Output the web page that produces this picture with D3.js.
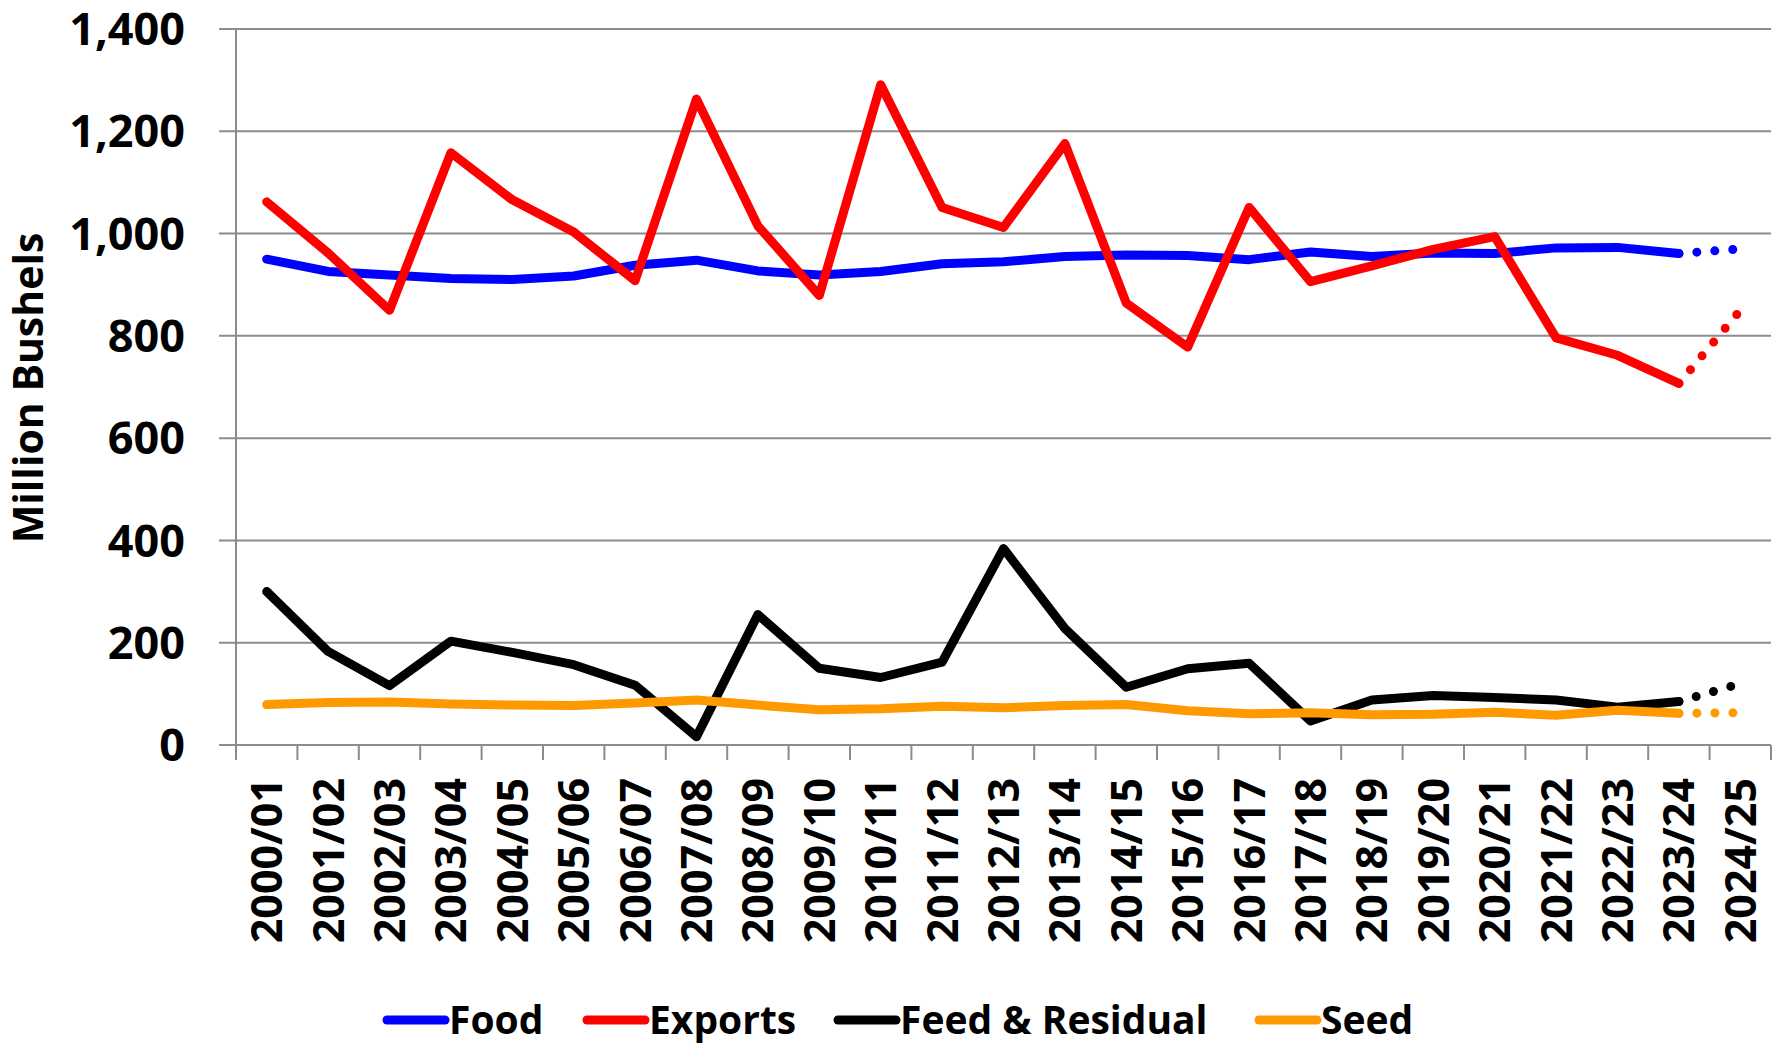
<!DOCTYPE html>
<html lang="en">
<head>
    <meta charset="UTF-8">
    <title>Wheat Use</title>
    <script src="https://d3js.org/d3.v7.min.js"></script>
    <style>
        body {
            margin: 0;
            background: #fff;
            font-family: "Open Sans", Arial, sans-serif;
        }
        svg text {
            font-weight: bold;
            fill: #000;
        }
    </style>
</head>
<body>
    <div id="chart"></div>

    <script>
        // Marketing years (last one is a projection)
        const categories = [
            "2000/01", "2001/02", "2002/03", "2003/04", "2004/05", "2005/06", "2006/07",
            "2007/08", "2008/09", "2009/10", "2010/11", "2011/12", "2012/13", "2013/14",
            "2014/15", "2015/16", "2016/17", "2017/18", "2018/19", "2019/20", "2020/21",
            "2021/22", "2022/23", "2023/24", "2024/25"
        ];

        // Million bushels
        const food = [950, 926, 919, 912, 910, 917, 938, 948, 927, 919, 926, 941, 945, 955,
            958, 957, 949, 964, 955, 962, 961, 972, 973, 961, 970];
        const exportsUse = [1062, 962, 850, 1158, 1066, 1003, 908, 1263, 1015, 879, 1291, 1051, 1012, 1176,
            864, 778, 1051, 906, 937, 969, 994, 796, 762, 707, 850];
        const feedResidual = [300, 183, 116, 203, 181, 157, 117, 16, 255, 150, 132, 162, 384, 228,
            113, 149, 160, 47, 88, 97, 93, 88, 74, 85, 120];
        const seed = [79, 83, 84, 80, 78, 77, 82, 88, 78, 69, 71, 76, 73, 77,
            79, 67, 61, 63, 59, 60, 64, 58, 68, 62, 63];

        const yTicks = [0, 200, 400, 600, 800, 1000, 1200, 1400];

        const series = [
            { name: "Food", values: food, color: "#0000ff" },
            { name: "Exports", values: exportsUse, color: "#ff0000" },
            { name: "Feed & Residual", values: feedResidual, color: "#000000" },
            { name: "Seed", values: seed, color: "#ff9900" }
        ];
        const lastActual = categories.length - 2;

        const W = 1781, H = 1044;
        const plotLeft = 236, plotRight = 1771, plotTop = 29, plotBottom = 745;
        const gridColor = "#8c8c8c";

        const svg = d3.select("#chart").append("svg")
            .attr("width", W)
            .attr("height", H);

        const x = d3.scaleBand().domain(categories).range([plotLeft, plotRight]).padding(0);
        const y = d3.scaleLinear().domain([0, 1400]).range([plotBottom, plotTop]);
        const cx = c => x(c) + x.bandwidth() / 2;

        // gridlines + outward y ticks
        svg.append("g").selectAll("line")
            .data(yTicks)
            .join("line")
            .attr("x1", plotLeft - 17).attr("x2", plotRight)
            .attr("y1", d => y(d)).attr("y2", d => y(d))
            .attr("stroke", gridColor).attr("stroke-width", 2);

        // y axis line
        svg.append("line")
            .attr("x1", plotLeft).attr("x2", plotLeft)
            .attr("y1", plotTop).attr("y2", plotBottom)
            .attr("stroke", gridColor).attr("stroke-width", 2);

        // y tick labels
        svg.append("g").selectAll("text")
            .data(yTicks)
            .join("text")
            .attr("x", 185)
            .attr("y", d => y(d))
            .attr("dy", "0.36em")
            .attr("text-anchor", "end")
            .style("font-size", "45px")
            .text(d3.format(","));

        // x tick marks at band edges
        const edges = categories.map(c => x(c)).concat([plotRight]);
        svg.append("g").selectAll("line")
            .data(edges)
            .join("line")
            .attr("x1", d => d).attr("x2", d => d)
            .attr("y1", plotBottom).attr("y2", plotBottom + 15)
            .attr("stroke", gridColor).attr("stroke-width", 2);

        // x labels, rotated
        svg.append("g").selectAll("text")
            .data(categories)
            .join("text")
            .attr("transform", c => `translate(${cx(c)},778) rotate(-90)`)
            .attr("dy", "0.36em")
            .attr("text-anchor", "end")
            .style("font-size", "43px")
            .text(c => c);

        // y axis title
        svg.append("text")
            .attr("transform", "translate(28,388) rotate(-90)")
            .attr("dy", "0.36em")
            .attr("text-anchor", "middle")
            .style("font-size", "41px")
            .text("Million Bushels");

        // series lines
        const line = d3.line()
            .x(d => cx(d.c))
            .y(d => y(d.v));

        series.forEach(s => {
            const pts = s.values.map((v, i) => ({ c: categories[i], v: v }));
            svg.append("path")
                .datum(pts.slice(0, lastActual + 1))
                .attr("d", line)
                .attr("fill", "none")
                .attr("stroke", s.color)
                .attr("stroke-width", 9)
                .attr("stroke-linecap", "round")
                .attr("stroke-linejoin", "round");
            svg.append("path")
                .datum(pts.slice(lastActual))
                .attr("d", line)
                .attr("fill", "none")
                .attr("stroke", s.color)
                .attr("stroke-width", 9)
                .attr("stroke-linecap", "round")
                .attr("stroke-dasharray", "0 18");
        });

        // legend
        const legendX = [387, 587, 838, 1259];
        const legend = svg.append("g").selectAll("g")
            .data(series)
            .join("g")
            .attr("transform", (d, i) => `translate(${legendX[i]},1020)`);
        legend.append("line")
            .attr("x1", 0).attr("x2", 58)
            .attr("stroke", d => d.color)
            .attr("stroke-width", 9)
            .attr("stroke-linecap", "round");
        legend.append("text")
            .attr("x", 62)
            .attr("dy", "0.36em")
            .style("font-size", "39px")
            .text(d => d.name);
    </script>
</body>
</html>
